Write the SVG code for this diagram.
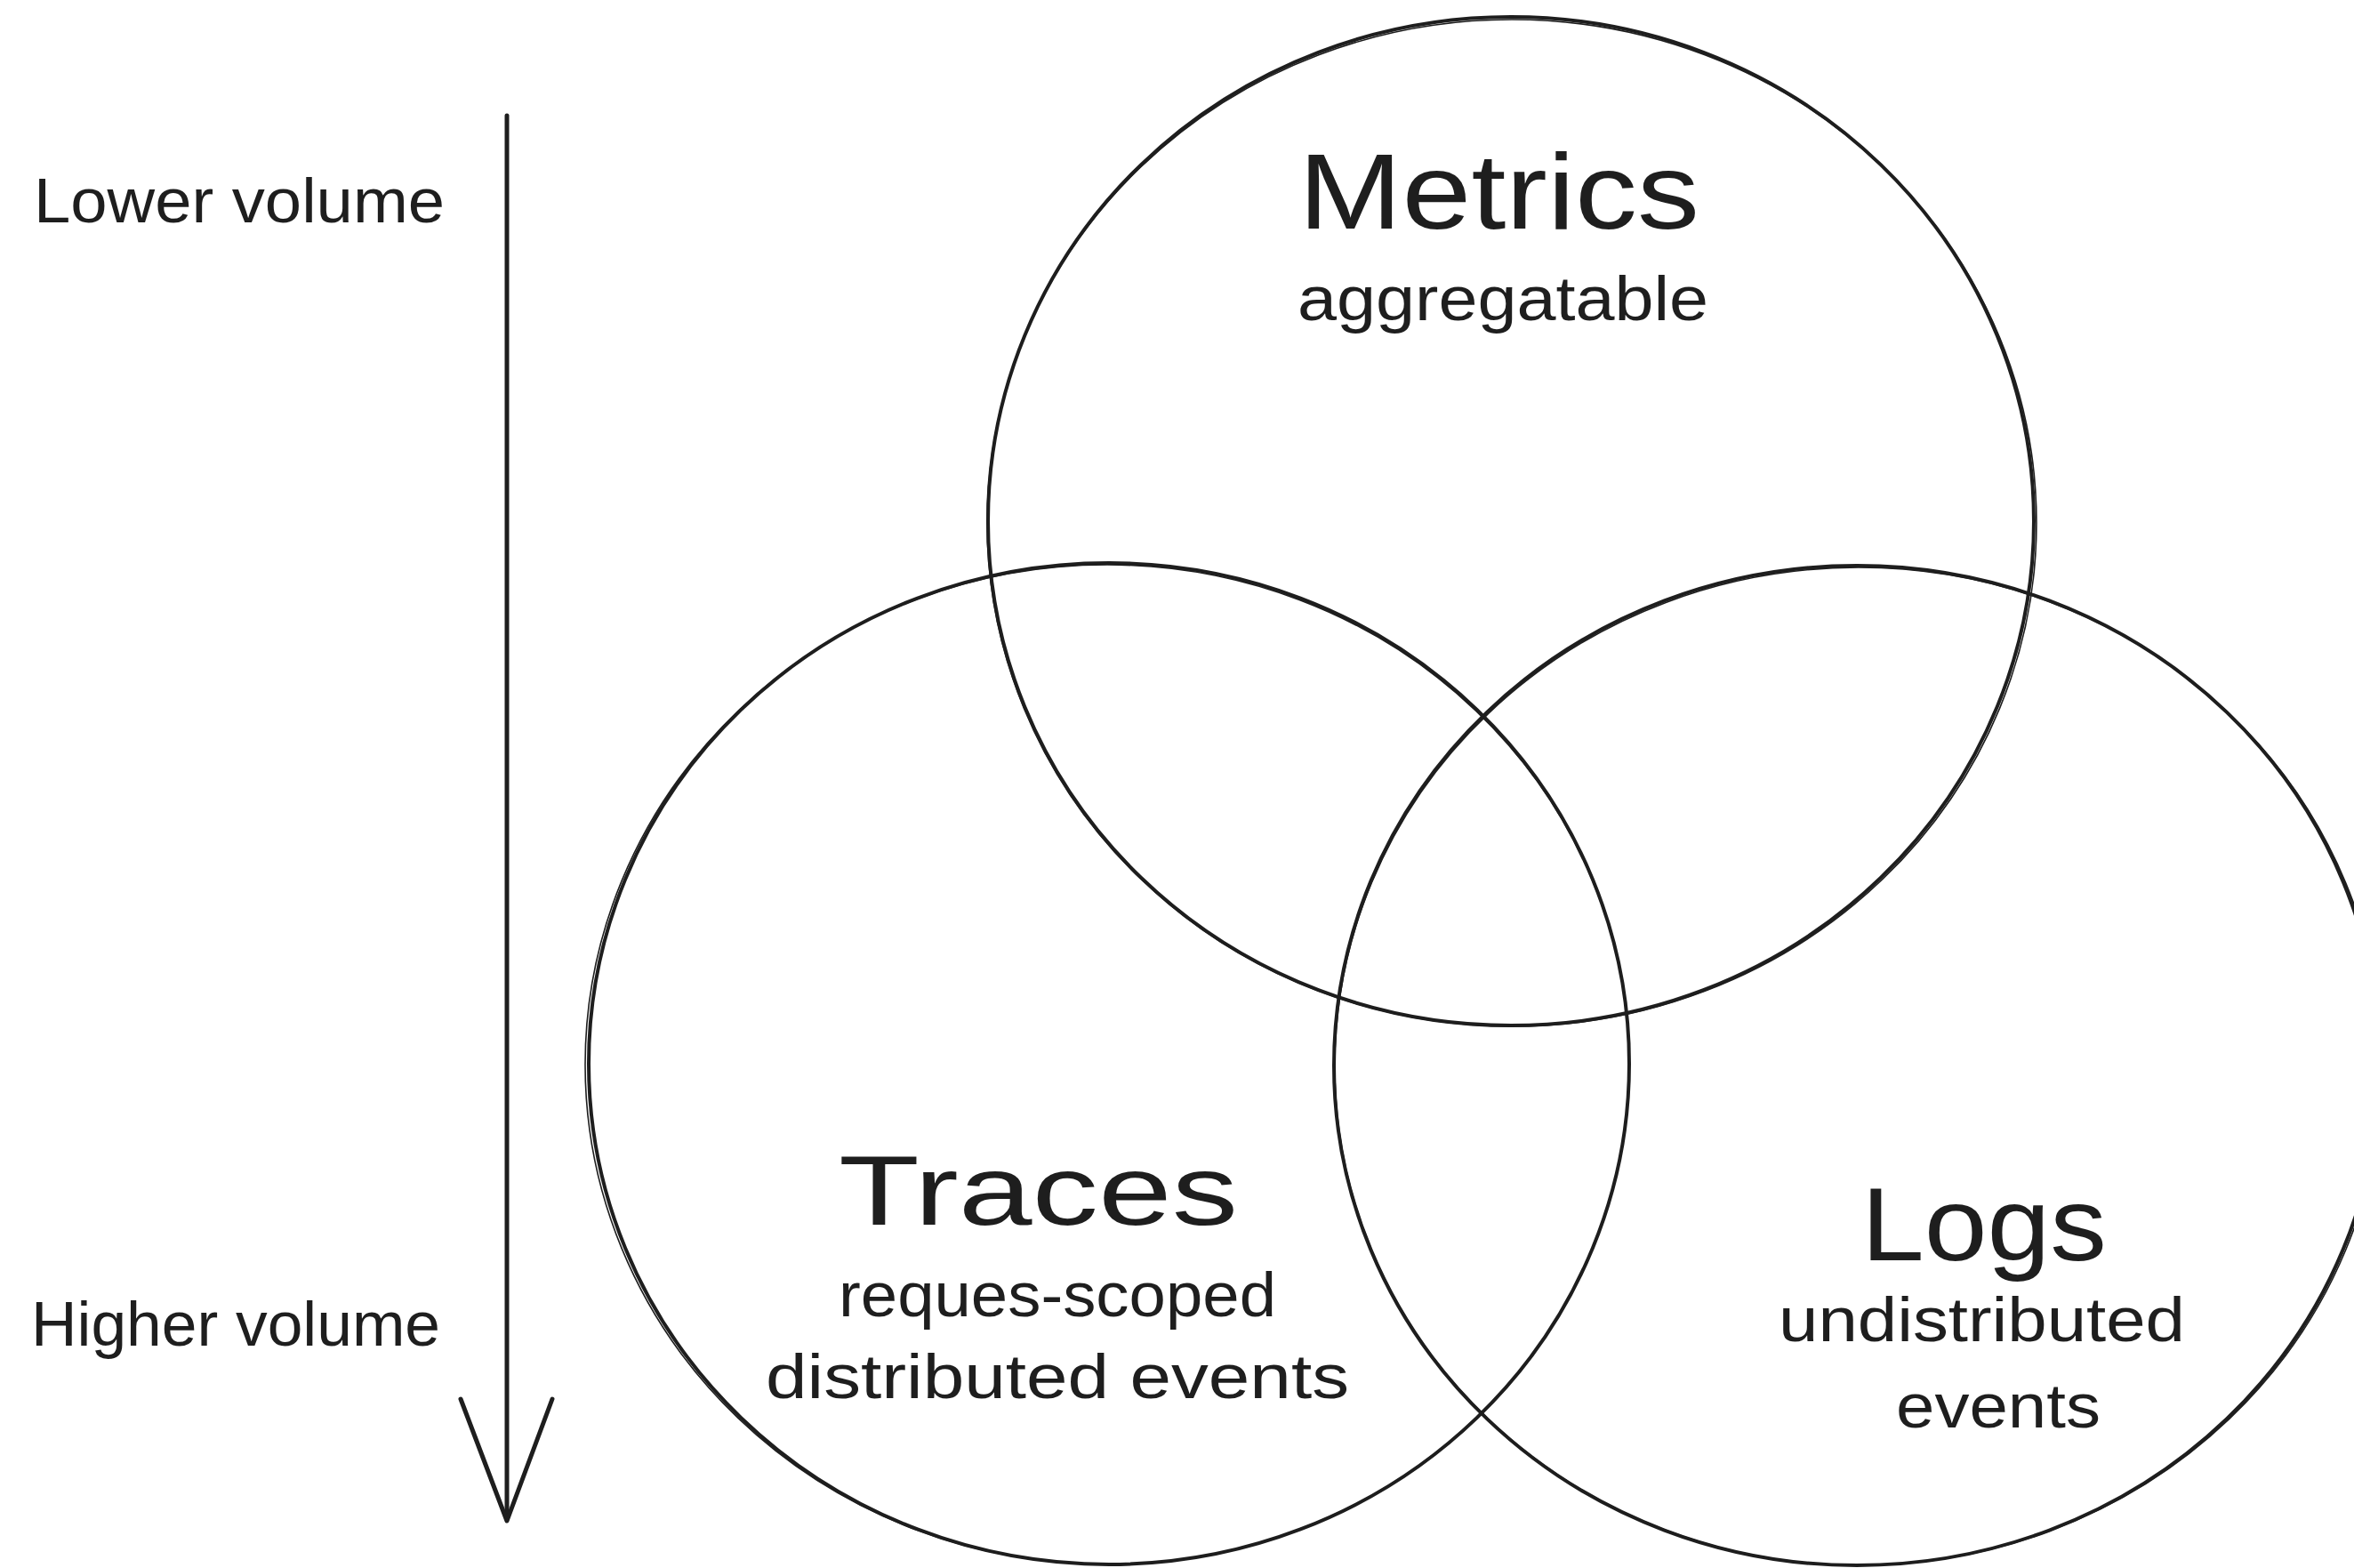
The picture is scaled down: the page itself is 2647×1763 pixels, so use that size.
<svg xmlns="http://www.w3.org/2000/svg" width="2647" height="1763" viewBox="0 0 2647 1763">
  <style>
    .circle { fill: none; stroke: #1e1e1e; stroke-width: 4; }
    .circle2 { fill: none; stroke: #1e1e1e; stroke-width: 1.6; }
    .title { font-family: "Liberation Sans", "DejaVu Sans", sans-serif; fill: #1e1e1e; }
    .sub { font-family: "Liberation Sans", "DejaVu Sans", sans-serif; fill: #1e1e1e; font-size: 70px; }
    .axis { font-family: "Liberation Sans", "DejaVu Sans", sans-serif; fill: #1e1e1e; font-size: 70px; }
    .line { fill: none; stroke: #1e1e1e; stroke-width: 5; stroke-linecap: round; stroke-linejoin: round; }
  </style>
  <rect x="0" y="0" width="2647" height="1763" fill="#ffffff"/>

  <g id="metrics">
    <ellipse class="circle" cx="1699" cy="586" rx="588" ry="567"/>
    <ellipse class="circle2" cx="1700" cy="588" rx="590" ry="566"/>
    <text class="title" x="1460" y="257" font-size="120" textLength="451" lengthAdjust="spacingAndGlyphs">Metrics</text>
    <text class="sub" x="1459" y="360" textLength="462" lengthAdjust="spacingAndGlyphs">aggregatable</text>
  </g>

  <g id="traces">
    <ellipse class="circle" cx="1247" cy="1196" rx="585" ry="563"/>
    <ellipse class="circle2" cx="1245" cy="1197" rx="587" ry="562"/>
    <text class="title" x="943" y="1377" font-size="112" textLength="449" lengthAdjust="spacingAndGlyphs">Traces</text>
    <text class="sub" x="943" y="1480" textLength="492" lengthAdjust="spacingAndGlyphs">reques-scoped</text>
    <text class="sub" x="861" y="1572" textLength="656" lengthAdjust="spacingAndGlyphs">distributed events</text>
  </g>

  <g id="logs">
    <ellipse class="circle" cx="2088" cy="1198" rx="588" ry="562"/>
    <ellipse class="circle2" cx="2090" cy="1199" rx="589" ry="561"/>
    <text class="title" x="2093" y="1417" font-size="116" textLength="276" lengthAdjust="spacingAndGlyphs">Logs</text>
    <text class="sub" x="2000" y="1508" textLength="457" lengthAdjust="spacingAndGlyphs">undistributed</text>
    <text class="sub" x="2132" y="1605" textLength="230" lengthAdjust="spacingAndGlyphs">events</text>
  </g>

  <g id="lower-volume">
    <text class="axis" x="38" y="250" textLength="462" lengthAdjust="spacingAndGlyphs">Lower volume</text>
  </g>

  <g id="higher-volume">
    <text class="axis" x="35" y="1513" textLength="460" lengthAdjust="spacingAndGlyphs">Higher volume</text>
  </g>

  <g id="connectors">
    <path class="line" d="M570 130 L570 1708"/>
    <path class="line" d="M518 1573 L570 1710 L621 1573"/>
  </g>
</svg>
